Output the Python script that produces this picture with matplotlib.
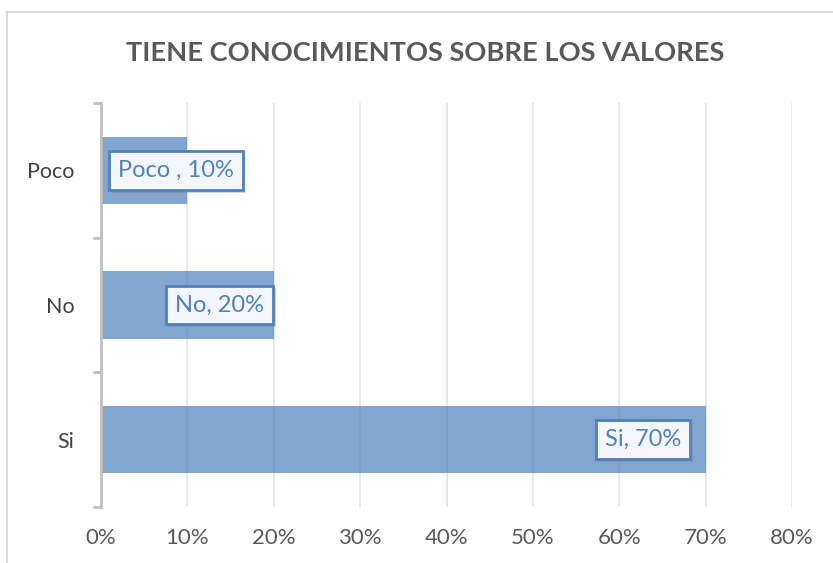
import matplotlib
matplotlib.use('Agg')
import matplotlib.pyplot as plt
import matplotlib.patheffects as pe
from matplotlib.patches import Rectangle
import numpy as np

# Chart data
categories = ['Si', 'No', 'Poco']
values = [70, 20, 10]
point_labels = ['Si, 70%', 'No, 20%', 'Poco , 10%']
xticks = [0, 10, 20, 30, 40, 50, 60, 70, 80]
title = 'TIENE CONOCIMIENTOS SOBRE LOS VALORES'

plt.rcParams['font.family'] = ['Lato', 'DejaVu Sans']

fig = plt.figure(figsize=(8.33, 5.63), dpi=100)
ax = fig.add_axes([101 / 833, 1 - 507 / 563, (792 - 101) / 833, (507 - 103) / 563])

# outer chart frame (runs off the right and bottom of the picture)
fig.patches.append(Rectangle((7 / 833, -0.1), 1.2, 1.1 - 12 / 563,
                             transform=fig.transFigure, fill=False,
                             edgecolor='#D9D9D9', linewidth=1.5, zorder=0))

ypos = np.arange(len(categories))
ax.barh(ypos, values, height=0.5, color='#4F81BD', alpha=0.7, zorder=2)

ax.set_xlim(0, 80)
ax.set_ylim(-0.5, len(categories) - 0.5)
ax.set_xticks(xticks)
ax.set_xticklabels([f'{t}%' for t in xticks])
ax.set_yticks(ypos)
ax.set_yticklabels(categories)
ax.set_yticks(np.arange(-0.5, len(categories), 1.0), minor=True)

ax.grid(axis='x', color='#E3E3E3', linewidth=1.2, zorder=1)
ax.set_axisbelow(True)

for s in ['top', 'right', 'bottom']:
    ax.spines[s].set_visible(False)
ax.spines['left'].set_color('#BFBFBF')
ax.spines['left'].set_linewidth(2.0)
ax.spines['left'].set_zorder(3)

ax.tick_params(axis='x', length=0, pad=15, labelsize=16, labelcolor='#595959')
ax.tick_params(axis='y', which='major', length=0, pad=19, labelsize=15.5, labelcolor='#404040')
ax.tick_params(axis='y', which='minor', length=6, width=2.0, color='#BFBFBF')

# label boxes, offsets in pixels relative to bar end
box_offsets = [-15, 0, 56]
for y, v, lab, off in zip(ypos, values, point_labels, box_offsets):
    t = ax.annotate(lab, xy=(v, y), xytext=(off * 72 / 100 - 7, 0), textcoords='offset points',
                    ha='right', va='center', fontsize=17, color='#4F81BD', zorder=5,
                    bbox=dict(boxstyle='square,pad=0.38', facecolor='#F3F6FA',
                              edgecolor='#4F81BD', linewidth=2.0))
    t.get_bbox_patch().set_path_effects([
        pe.SimplePatchShadow(offset=(2, -2), shadow_rgbFace='#7F7F7F', alpha=0.35),
        pe.Normal()])

fig.text(425 / 833, 1 - 53 / 563, title, ha='center', va='center',
         fontsize=19.6, fontweight='bold', color='#595959')

fig.savefig('out.png', dpi=100)
